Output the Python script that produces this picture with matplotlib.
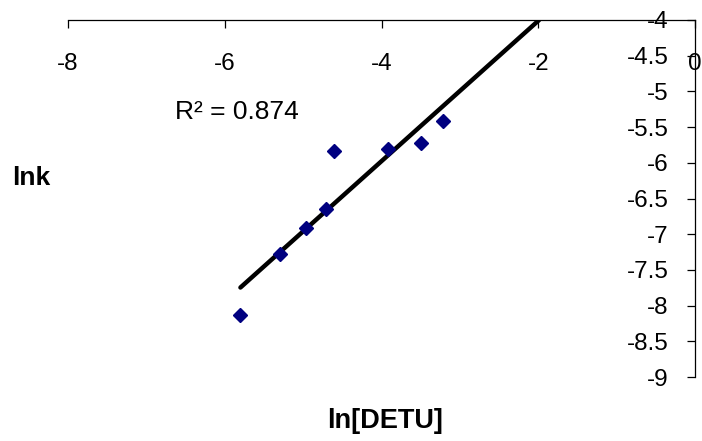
import matplotlib
matplotlib.use('Agg')
import matplotlib.pyplot as plt
import numpy as np

# ln[DETU] vs lnk
ln_detu = [-5.80, -5.29, -4.96, -4.71, -4.61, -3.92, -3.50, -3.22]
ln_k = [-8.13, -7.28, -6.92, -6.65, -5.84, -5.81, -5.72, -5.41]
x_ticks = [-8, -6, -4, -2, 0]
y_ticks = [-4, -4.5, -5, -5.5, -6, -6.5, -7, -7.5, -8, -8.5, -9]
r2_label = 'R² = 0.874'

plt.rcParams['font.family'] = ['Liberation Sans', 'DejaVu Sans']

fig = plt.figure(figsize=(7.02, 4.41), dpi=100)
W, H = 702.0, 441.0
ax = fig.add_axes([68 / W, 1 - 377 / H, (695 - 68) / W, (377 - 20) / H])
ax.patch.set_alpha(0)

x = np.array(ln_detu)
y = np.array(ln_k)
ax.plot(x, y, 'D', color='#000080', ms=7, zorder=3)

# linear trendline, runs from the first point until it leaves the plot
slope, icept = np.polyfit(x, y, 1)
xe = (-4 - icept) / slope
xt = np.array([x.min(), xe])
ax.plot(xt, slope * xt + icept, '-', color='black', lw=3.2, zorder=2,
        solid_capstyle='round')

ax.set_xlim(-8, 0)
ax.set_ylim(-9, -4)
ax.spines['top'].set_visible(False)
ax.spines['right'].set_visible(False)
ax.spines['bottom'].set_position(('data', -4))
ax.spines['left'].set_position(('data', 0))
for s in ('bottom', 'left'):
    ax.spines[s].set_linewidth(0.9)

ax.set_xticks(x_ticks)
ax.set_xticklabels(['%g' % v for v in x_ticks])
ax.set_yticks(y_ticks)
ax.set_yticklabels(['%g' % v for v in y_ticks])
ax.tick_params(axis='x', direction='out', length=6, width=0.9,
               labelsize=17.5, pad=18)
ax.tick_params(axis='y', direction='out', length=6, width=0.9,
               labelsize=17.5, pad=13)

fig.text(237 / W, 1 - 112 / H, r2_label, fontsize=19,
         ha='center', va='center')
fig.text(31 / W, 1 - 178 / H, 'lnk', fontsize=19, fontweight='bold',
         ha='center', va='center')
fig.text(385 / W, 1 - 421 / H, 'ln[DETU]', fontsize=19.5, fontweight='bold',
         ha='center', va='center')

fig.savefig('out.png', dpi=100)
